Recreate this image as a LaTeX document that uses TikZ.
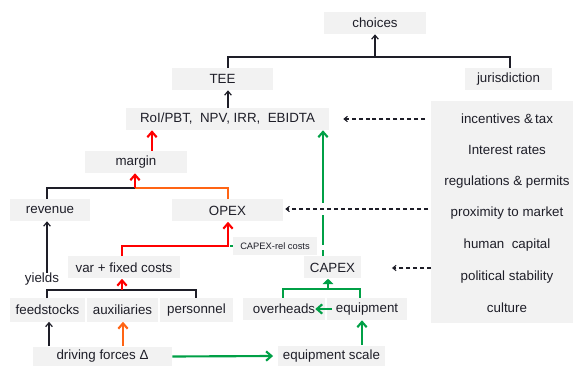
\documentclass[tikz,border=0pt]{standalone}
\usepackage{fontspec}
\setmainfont{Liberation Sans}
\usetikzlibrary{arrows.meta}
\definecolor{boxgray}{RGB}{242,242,242}
\definecolor{txt}{RGB}{30,30,40}
\definecolor{grn}{RGB}{0,160,70}
\definecolor{org}{RGB}{255,100,20}
\definecolor{rd}{RGB}{255,0,0}
\tikzset{
  bx/.style args={#1x#2}{fill=boxgray, text=txt, inner sep=0pt,
    minimum width=#1*0.75pt, minimum height=#2*0.75pt, font=\fontsize{10}{12}\selectfont},
  blk/.style={draw=txt, line width=0.9pt},
  blkarr/.style={blk, -{Straight Barb[length=3pt,width=5pt]}},
  redarr/.style={draw=rd, line width=1.6pt, -{Straight Barb[length=4pt,width=7pt]}},
  orgline/.style={draw=org, line width=1.6pt},
  orgarr/.style={orgline, -{Straight Barb[length=4pt,width=7pt]}},
  grnline/.style={draw=grn, line width=1.6pt},
  grnarr/.style={grnline, -{Straight Barb[length=4pt,width=7pt]}},
  grntri/.style={grnline, -{Triangle[length=4pt,width=8pt]}},
  dsh/.style={draw=txt, line width=0.8pt, dash pattern=on 3pt off 2.2pt, -{Straight Barb[length=2.5pt,width=4pt]}},
  ptxt/.style={text=txt, inner sep=0pt, font=\fontsize{10}{12}\selectfont}
}
\begin{document}
\begin{tikzpicture}[x=0.75pt,y=-0.75pt]
\useasboundingbox (0,0) rectangle (574,366);
% boxes
\node[bx=102x22] (choices) at (375,23) {choices};
\node[bx=101x22] (tee) at (222.5,79) {TEE};
\node[bx=87x22] (jur) at (508.5,79) {jurisdiction};
\node[bx=203x22] (roi) at (227.5,119) {RoI/PBT,\ \ NPV, IRR,\ \ EBIDTA};
\node[bx=142x222] (panel) at (502,212) {};
\node[ptxt] (p1) at (507,119) {incentives \&\,tax};
\node[ptxt] (p2) at (507,150) {Interest rates};
\node[ptxt] (p3) at (507,182) {regulations \& permits};
\node[ptxt] (p4) at (507,213) {proximity to market};
\node[ptxt] (p5) at (507,245) {human\ \ capital};
\node[ptxt] (p6) at (507,277) {political stability};
\node[ptxt] (p7) at (507,308) {culture};
\node[bx=102x22] (margin) at (136,162) {margin};
\node[bx=80x22] (revenue) at (50,210) {revenue};
\node[bx=111x22] (opex) at (227.5,210.5) {OPEX};
\node[bx=112x22] (var) at (124,267.5) {var + fixed costs};
\node[bx=57x22] (capex) at (332.5,267.5) {CAPEX};
\node[ptxt] (yields) at (42,279) {yields};
\node[bx=75x23] (feed) at (47.5,310) {feedstocks};
\node[bx=71x23] (aux) at (122.5,310) {auxiliaries};
\node[bx=73x23] (pers) at (196.5,310) {personnel};
\node[bx=82x22] (over) at (284,309) {overheads};
\node[bx=80x22] (equip) at (367,309) {equipment};
\node[bx=139x20] (drive) at (102.5,356.5) {driving forces Δ};
\node[bx=107x21] (escale) at (331.5,356) {equipment scale};
% coordinates
\coordinate (tL) at (228,57);
\coordinate (tM) at (375,57);
\coordinate (tR) at (510,57);
\coordinate (mx) at (152,0);
\coordinate (rL) at (47,188);
\coordinate (rM) at (135,188);
\coordinate (rR) at (228,188);
\coordinate (vL) at (122,246);
\coordinate (vR) at (228,246);
\coordinate (gx) at (323,0);
\coordinate (fL) at (47,290);
\coordinate (fM) at (122,290);
\coordinate (fR) at (196,290);
\coordinate (dx) at (49,0);
\coordinate (ax) at (123,0);
\coordinate (ex) at (362,0);
\coordinate (oL) at (283,289);
\coordinate (oM) at (328,289);
\coordinate (oR) at (360,289);
% top bracket
\draw[blk] (tL |- tee.north) -- (tL) -- (tR) -- (tR |- jur.north);
\draw[blkarr] (tM) -- (choices.south);
\draw[blkarr] (tL |- roi.north) -- (tL |- tee.south);
% margin to roi
\draw[redarr] (mx |- margin.north) -- (mx |- roi.south);
% revenue / opex to margin
\draw[blk] (rL |- revenue.north) -- (rL) -- (rM);
\draw[orgline] (rR |- opex.north) -- (rR) -- (rM);
\draw[redarr] (rM) -- (rM |- margin.south);
% yields
\draw[blkarr] (yields.north -| rL) -- (rL |- revenue.south);
% var to opex
\draw[redarr] (vL |- var.north) -- (vL) -- (vR) -- (vR |- opex.south);
% green capex vertical
\draw[grnarr] (gx |- capex.north) -- (gx |- roi.south);
\fill[white] (319,203) rectangle (327,215);
\fill[white] (319,245) rectangle (327,250);
% capex-rel costs label
\node[bx=84x18, font=\fontsize{7}{8}\selectfont] (crel) at (275,246) {CAPEX-rel costs};
\draw[grnline, line width=1.2pt] (crel.west) -- ++(-3,0);
% dashed arrows
\coordinate (d1) at (425,119);
\coordinate (d2) at (428,209);
\coordinate (d3) at (431,268);
\draw[dsh] (d1) -- ([xshift=10.5pt]roi.east |- d1);
\draw[dsh] (d2) -- ([xshift=1.5pt]opex.east |- d2);
\draw[dsh] (d3) -- ([xshift=23pt]capex.east |- d3);
% lower bracket
\draw[blk] (fL |- feed.north) -- (fL) -- (fR) -- (fR |- pers.north);
\draw[redarr] (fM) -- (fM |- var.south);
\draw[blkarr] (dx |- drive.north) -- (dx |- feed.south);
\draw[orgarr] (ax |- drive.north) -- (ax |- aux.south);
% green bottom
\draw[grnarr] (drive.east) -- ([xshift=-3.5pt]escale.west);
\draw[grnarr] (ex |- escale.north) -- (ex |- equip.south);
\draw[grnarr] ([xshift=4pt]equip.west) -- ([xshift=-7.5pt]over.east);
\draw[grnline] (oL |- over.north) -- (oL) -- (oR) -- (oR |- equip.north);
\draw[grntri] (oM) -- (oM |- capex.south);
\end{tikzpicture}
\end{document}
